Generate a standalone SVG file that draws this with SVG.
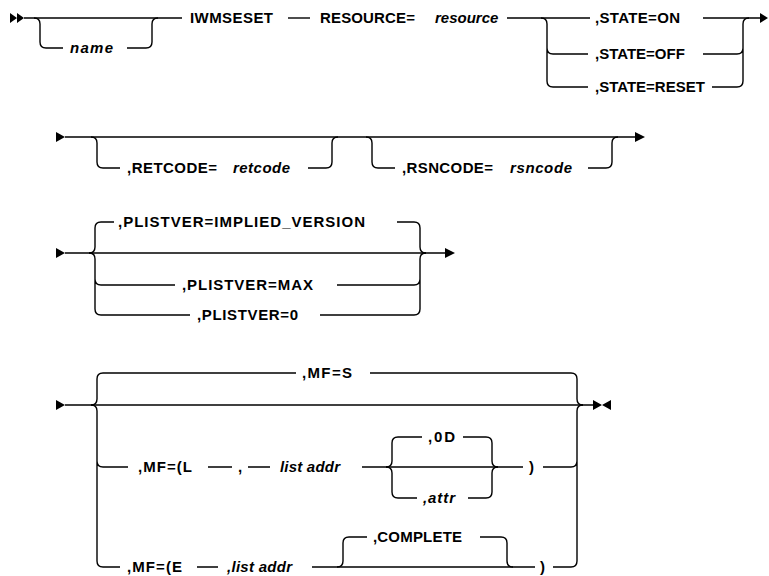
<svg xmlns="http://www.w3.org/2000/svg" width="769" height="576" viewBox="0 0 769 576">
<style>
.l{fill:none;stroke:#000;stroke-width:1.4}
.a{fill:#000;stroke:none}
text{font-family:"Liberation Sans",Arial,sans-serif;font-size:15px;font-weight:bold;fill:#000}
.i{font-style:italic}
</style>
<rect width="769" height="576" fill="#fff"/>
<g id="connectors">
<path class="a" d="M10,13 L17,18 L10,23 Z M17,13 L24,18 L17,23 Z"/>
<path class="l" d="M24,18 H182"/>
<path class="l" d="M34,18 Q40,18 40,24 V42 Q40,48 46,48 H63 M127,48 H146 Q152,48 152,42 V24 Q152,18 158,18"/>
<path class="l" d="M288,18 H310"/>
<path class="l" d="M507,18 H590 M703,18 H762"/>
<path class="l" d="M541,18 Q547,18 547,24 V81 Q547,87 553,87 H588 M547,48 Q547,54 553,54 H588"/>
<path class="l" d="M703,54 H737 Q743,54 743,48 M712,87 H737 Q743,87 743,81 V24 Q743,18 749,18"/>
<path class="a" d="M760,13 L768,18 L760,23 Z"/>
<path class="a" d="M56,132 L65,137 L56,142 Z"/>
<path class="l" d="M65,137 H636"/>
<path class="a" d="M635,132 L645,137 L635,142 Z"/>
<path class="l" d="M91,137 Q97,137 97,143 V162 Q97,168 103,168 H120 M308,168 H326 Q332,168 332,162 V143 Q332,137 338,137"/>
<path class="l" d="M366,137 Q372,137 372,143 V162 Q372,168 378,168 H395 M588,168 H606 Q612,168 612,162 V143 Q612,137 618,137"/>
<path class="a" d="M56,248 L65,253 L56,258 Z"/>
<path class="l" d="M65,253 H446"/>
<path class="a" d="M445,248 L455,253 L445,258 Z"/>
<path class="l" d="M89,253 Q95,253 95,247 V228 Q95,222 101,222 H114 M397,222 H414 Q420,222 420,228 V247 Q420,253 426,253"/>
<path class="l" d="M89,253 Q95,253 95,259 V309 Q95,315 101,315 H190 M95,279 Q95,285 101,285 H175"/>
<path class="l" d="M337,285 H414 Q420,285 420,279 M320,315 H414 Q420,315 420,309 V259 Q420,253 426,253"/>
<path class="a" d="M56,400 L65,405 L56,410 Z"/>
<path class="l" d="M65,405 H594"/>
<path class="a" d="M593,400 L602,405 L593,410 Z M611,400 L602,405 L611,410 Z"/>
<path class="l" d="M91,405 Q97,405 97,399 V379 Q97,373 103,373 H296 M370,373 H571 Q577,373 577,379 V399 Q577,405 583,405"/>
<path class="l" d="M91,405 Q97,405 97,411 V561 Q97,567 103,567 H120 M97,461 Q97,467 103,467 H128"/>
<path class="l" d="M543,467 H571 Q577,467 577,461 M553,567 H571 Q577,567 577,561 V411 Q577,405 583,405"/>
<path class="l" d="M208,467 H232 M248,467 H270 M362,467 H523"/>
<path class="l" d="M386,467 Q392,467 392,461 V443 Q392,437 398,437 H422 M463,437 H486 Q492,437 492,443 V461 Q492,467 498,467"/>
<path class="l" d="M386,467 Q392,467 392,473 V492 Q392,498 398,498 H417 M468,498 H486 Q492,498 492,492 V473 Q492,467 498,467"/>
<path class="l" d="M197,567 H218 M312,567 H535"/>
<path class="l" d="M337,567 Q343,567 343,561 V543 Q343,537 349,537 H367 M480,537 H501 Q507,537 507,543 V561 Q507,567 513,567"/>
</g>
<g id="n-name"><text class="i" x="70" y="53" textLength="43">name</text></g>
<g id="n-iwmseset"><text x="190" y="23" textLength="83">IWMSESET</text></g>
<g id="n-resource-kw"><text x="320" y="23" textLength="95">RESOURCE=</text></g>
<g id="n-resource"><text class="i" x="435" y="23">resource</text></g>
<g id="n-state-on"><text x="595" y="23" textLength="85">,STATE=ON</text></g>
<g id="n-state-off"><text x="595" y="59">,STATE=OFF</text></g>
<g id="n-state-reset"><text x="595" y="92">,STATE=RESET</text></g>
<g id="n-retcode-kw"><text x="127" y="173" textLength="90">,RETCODE=</text></g>
<g id="n-retcode"><text class="i" x="233" y="173" textLength="57">retcode</text></g>
<g id="n-rsncode-kw"><text x="402" y="173" textLength="91">,RSNCODE=</text></g>
<g id="n-rsncode"><text class="i" x="510" y="173" textLength="62">rsncode</text></g>
<g id="n-plist-implied"><text x="118" y="227" textLength="247">,PLISTVER=IMPLIED_VERSION</text></g>
<g id="n-plist-max"><text x="182" y="290" textLength="131">,PLISTVER=MAX</text></g>
<g id="n-plist-0"><text x="197" y="320" textLength="101">,PLISTVER=0</text></g>
<g id="n-mf-s"><text x="302" y="378" textLength="50">,MF=S</text></g>
<g id="n-mf-l"><text x="138" y="472" textLength="54">,MF=(L</text></g>
<g id="n-comma"><text x="238" y="472">,</text></g>
<g id="n-listaddr-l"><text class="i" x="280" y="472" textLength="60">list addr</text></g>
<g id="n-0d"><text x="428" y="442" textLength="27">,0D</text></g>
<g id="n-attr"><text class="i" x="423" y="503" textLength="32">,attr</text></g>
<g id="n-paren-l"><text x="529" y="472">)</text></g>
<g id="n-mf-e"><text x="127" y="572" textLength="55">,MF=(E</text></g>
<g id="n-listaddr-e"><text class="i" x="227" y="572" textLength="65">,list addr</text></g>
<g id="n-complete"><text x="373" y="542" textLength="89">,COMPLETE</text></g>
<g id="n-paren-e"><text x="540" y="572">)</text></g>
</svg>
